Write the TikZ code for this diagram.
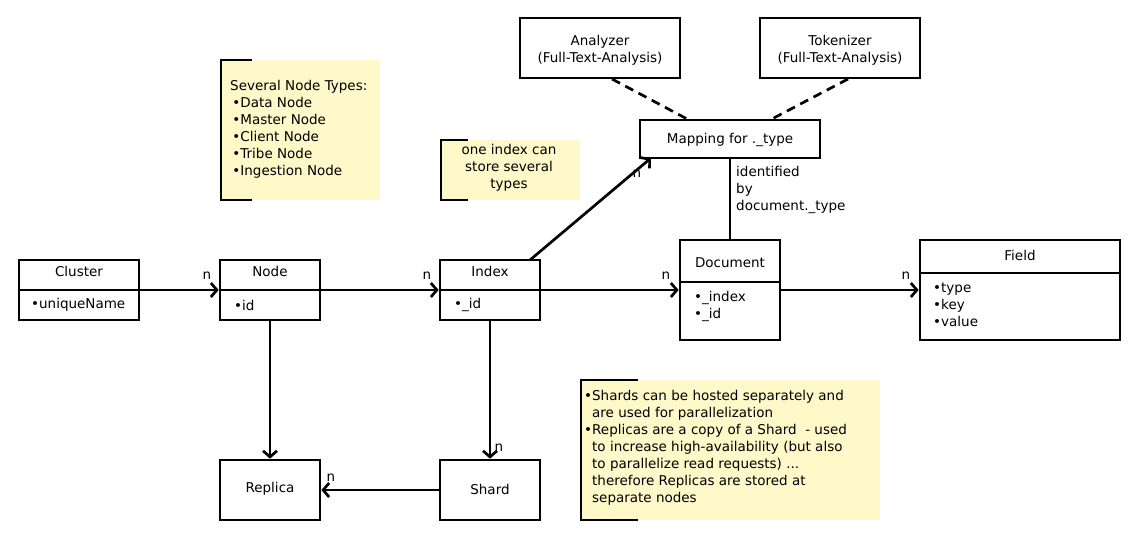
\documentclass[tikz,border=0pt]{standalone}
\usepackage{fontspec}
\setmainfont{DejaVu Sans}
\usetikzlibrary{arrows.meta}
\definecolor{notey}{HTML}{FFF8C8}
\tikzset{
  box/.style={draw=black, line width=2.7pt, fill=white, inner sep=0pt},
  lbl/.style={font=\fontsize{13.5}{17}\selectfont, inner sep=0pt, align=left},
  ctr/.style={font=\fontsize{13.5}{17}\selectfont, inner sep=0pt, align=center},
  conn/.style={line width=2.7pt, -{Straight Barb[length=6pt,width=14pt,line width=2.7pt]}},
  plainconn/.style={line width=2.7pt},
  dashconn/.style={line width=2.7pt, dash pattern=on 9pt off 6pt},
  bracket/.style={line width=2.7pt},
  card/.style={font=\fontsize{13.5}{17}\selectfont, inner sep=0pt}
}
\begin{document}
\begin{tikzpicture}[x=1pt,y=-1pt]
\useasboundingbox[fill=white] (0,0) rectangle (1140,540);

% notes
\fill[notey] (220,60) rectangle (380,200);
\draw[bracket] (252,60) -- (221,60) -- (221,200) -- (252,200);
\node[lbl, anchor=north west] (n1) at (230,80) {Several Node Types:\\ \,•Data Node\\ \,•Master Node\\ \,•Client Node\\ \,•Tribe Node\\ \,•Ingestion Node};

\fill[notey] (440,140) rectangle (580,200);
\draw[bracket] (468,140) -- (441,140) -- (441,200) -- (468,200);
\node[ctr, anchor=north] (n2) at (509,144) {one index can\\store several\\types};

\fill[notey] (580,380) rectangle (880,520);
\draw[bracket] (638,380) -- (581,380) -- (581,520) -- (638,520);
\node[lbl, anchor=north west] (n3) at (584,390) {•Shards can be hosted separately and\\ \phantom{•}are used for parallelization\\•Replicas are a copy of a Shard\ \ - used\\ \phantom{•}to increase high-availability (but also\\ \phantom{•}to parallelize read requests) ...\\ \phantom{•}therefore Replicas are stored at\\ \phantom{•}separate nodes};

% classes
\node[box, minimum width=120pt, minimum height=60pt] (cluster) at (79,290) {};
\draw[line width=2.7pt] (cluster.west) -- (cluster.east);
\node[ctr] (clustert) at (79,271) {Cluster};
\node[lbl, anchor=west] (clusteri) at (31,305) {•uniqueName};

\node[box, minimum width=100pt, minimum height=60pt] (node) at (270,290) {};
\draw[line width=2.7pt] (node.west) -- (node.east);
\node[ctr] (nodet) at (270,271) {Node};
\node[lbl, anchor=west] (nodei) at (234,305) {•id};

\node[box, minimum width=100pt, minimum height=60pt] (index) at (490,290) {};
\draw[line width=2.7pt] (index.west) -- (index.east);
\node[ctr] (indext) at (490,271) {Index};
\node[lbl, anchor=west] (indexi) at (454,305) {•\_id};

\node[box, minimum width=100pt, minimum height=100pt] (doc) at (730,290) {};
\coordinate (docdl) at (680,282);
\coordinate (docdr) at (780,282);
\draw[line width=2.7pt] (docdl) -- (docdr);
\node[ctr] (doct) at (730,263) {Document};
\node[lbl, anchor=north west] (doci) at (694,291) {•\_index\\•\_id};

\node[box, minimum width=200pt, minimum height=100pt] (field) at (1020,290) {};
\coordinate (fielddl) at (920,273);
\coordinate (fielddr) at (1120,273);
\draw[line width=2.7pt] (fielddl) -- (fielddr);
\node[ctr] (fieldt) at (1020,255) {Field};
\node[lbl, anchor=north west] (fieldi) at (933,283) {•type\\•key\\•value};

\node[box, minimum width=180pt, minimum height=38pt] (map) at (730,139) {};
\node[ctr] (mapt) at (730,140) {Mapping for .\_type};

\node[box, minimum width=160pt, minimum height=60pt] (ana) at (600,48) {};
\node[ctr] (anat) at (600,50) {Analyzer\\(Full-Text-Analysis)};

\node[box, minimum width=160pt, minimum height=60pt] (tok) at (840,48) {};
\node[ctr] (tokt) at (840,50) {Tokenizer\\(Full-Text-Analysis)};

\node[box, minimum width=100pt, minimum height=60pt] (rep) at (270,490) {};
\node[ctr] (rept) at (270,489) {Replica};

\node[box, minimum width=100pt, minimum height=60pt] (shard) at (490,490) {};
\node[ctr] (shardt) at (490,489) {Shard};

% connectors
\draw[conn] (cluster.east) -- (node.west);
\node[card] (c1) at (207,276) {n};
\draw[conn] (node.east) -- (index.west);
\node[card] (c2) at (427,276) {n};
\draw[conn] (index.east) -- (doc.west);
\node[card] (c3) at (666,276) {n};
\draw[conn] (doc.east) -- (field.west);
\node[card] (c4) at (906,276) {n};

\coordinate (idxtop) at (530,260);
\coordinate (maptip) at (651,158);
\draw[conn] (idxtop) -- (maptip);
\node[card] (c5) at (637,174) {n};

\draw[plainconn] (map.south) -- (doc.north);
\node[lbl, anchor=north west] (ident) at (736,166) {identified\\by\\document.\_type};

\coordinate (anab) at (612,79);
\coordinate (mapa) at (689,120);
\draw[dashconn] (anab) -- (mapa);
\coordinate (tokb) at (848,79);
\coordinate (mapb) at (770,120);
\draw[dashconn] (tokb) -- (mapb);

\draw[conn] (node.south) -- (rep.north);
\draw[conn] (index.south) -- (shard.north);
\node[card] (c6) at (499,448) {n};
\draw[conn] (shard.west) -- (rep.east);
\node[card] (c7) at (331,478) {n};
\end{tikzpicture}
\end{document}
